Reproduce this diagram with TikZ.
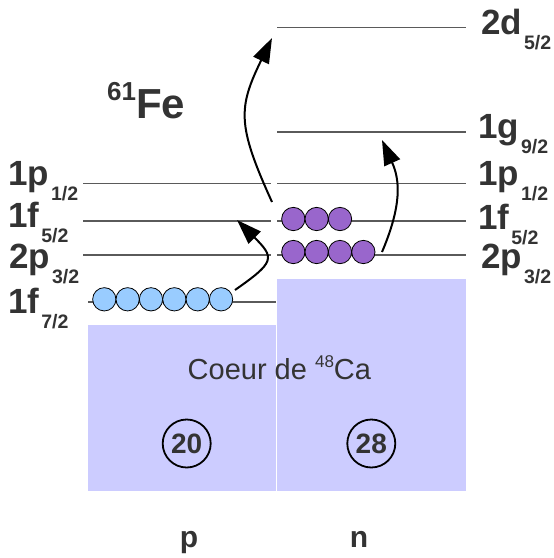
\documentclass[tikz,border=0pt]{standalone}
\usepackage{fontspec}
\setmainfont{Liberation Sans}
\usetikzlibrary{arrows.meta}
\definecolor{txt}{HTML}{333333}
\definecolor{lvl}{HTML}{5A5A5A}
\definecolor{core}{HTML}{CCCCFF}
\definecolor{protc}{HTML}{99CCFF}
\definecolor{neutc}{HTML}{9966CC}
\newcommand{\lvlab}[2]{#1\kern2pt\raisebox{-15.5pt}{\fontsize{19.5}{19.5}\selectfont #2}}
\begin{document}
\begin{tikzpicture}[x=1pt,y=-1pt,
  level/.style={draw=lvl,line width=1.4pt},
  corebox/.style={fill=core,draw=none},
  lab/.style={anchor=base west,inner sep=0pt,text=txt,font=\fontsize{35}{35}\selectfont\bfseries},
  prot/.style={circle,draw=black,line width=0.8pt,fill=protc,minimum size=23.3pt,inner sep=0pt},
  neut/.style={prot,fill=neutc},
  magic/.style={circle,draw=black,line width=1.8pt,minimum size=48pt,inner sep=0pt,text=txt,font=\fontsize{28}{28}\selectfont\bfseries},
  jump/.style={draw=black,line width=2pt,-{Triangle[length=25pt,width=17pt]}},
  plain/.style={inner sep=0pt,text=txt}
]
\useasboundingbox (0,0) rectangle (554,558);
\fill[white] (0,0) rectangle (554,558);
% core blocks
\path[corebox] (88,325) rectangle (276,491);
\path[corebox] (277,279) rectangle (466,491);
% proton levels
\draw[level] (83,183.3) -- (271,183.3);
\draw[level] (83,221) -- (271,221);
\draw[level] (83,255) -- (271,255);
\draw[level] (88,302) -- (276,302);
% neutron levels
\draw[level] (277,27.7) -- (466,27.7);
\draw[level] (277,132) -- (466,132);
\draw[level] (277,183.3) -- (466,183.3);
\draw[level] (277,221) -- (466,221);
\draw[level] (277,255) -- (466,255);
% labels left
\node[lab] (lp1) at (8,185) {\lvlab{1p}{1/2}};
\node[lab] (lf5) at (8,227) {\lvlab{1f}{5/2}};
\node[lab] (lp3) at (9,268) {\lvlab{2p}{3/2}};
\node[lab] (lf7) at (8,313) {\lvlab{1f}{7/2}};
% labels right
\node[lab] (rd5) at (481,34) {\lvlab{2d}{5/2}};
\node[lab] (rg9) at (478,138) {\lvlab{1g}{9/2}};
\node[lab] (rp1) at (478,185) {\lvlab{1p}{1/2}};
\node[lab] (rf5) at (478,229) {\lvlab{1f}{5/2}};
\node[lab] (rp3) at (481,268) {\lvlab{2p}{3/2}};
% title
\node[plain,anchor=base west,font=\bfseries] (fe) at (107,118)
  {\raisebox{18pt}{\fontsize{26}{26}\selectfont 61}\fontsize{42}{42}\selectfont Fe};
% core text
\node[plain,anchor=base,font=\fontsize{29}{29}\selectfont] (coeur) at (279.4,379.3)
  {Coeur de \raisebox{12pt}{\fontsize{17}{17}\selectfont 48}Ca};
% magic numbers
\node[magic] (m20) at (186.7,443.5) {20};
\node[magic] (m28) at (371.3,443.5) {28};
% p, n
\node[plain,anchor=base,font=\fontsize{30}{30}\selectfont\bfseries] (pl) at (189,547) {p};
\node[plain,anchor=base,font=\fontsize{30}{30}\selectfont\bfseries] (nl) at (359,547) {n};
% protons
\foreach \i in {0,...,5}
  \node[prot] (p\i) at (104.3+23.35*\i,299.3) {};
% neutrons
\foreach \i in {0,...,2}
  \node[neut] (nf\i) at (293.3+23.35*\i,219) {};
\foreach \i in {0,...,3}
  \node[neut] (np\i) at (293.3+23.35*\i,252) {};
% arrows
\coordinate (a1s) at (272,202);
\coordinate (a1e) at (272,38);
\coordinate (a2s) at (235,290);
\coordinate (a2e) at (237,220);
\coordinate (a3s) at (382,252);
\coordinate (a3e) at (382,140);
\draw[jump] (a1s) .. controls (237,125) and (238,108) .. (a1e);
\draw[jump] (a2s) .. controls (275,262) and (275,258) .. (a2e);
\draw[jump] (a3s) .. controls (402,205) and (400,180) .. (a3e);
\end{tikzpicture}
\end{document}
